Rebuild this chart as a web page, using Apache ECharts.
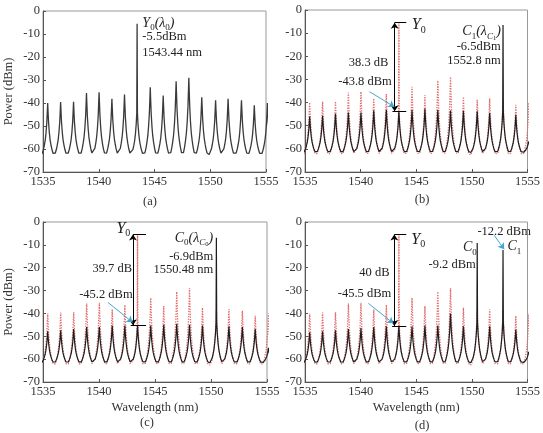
<!DOCTYPE html>
<html>
<head>
<meta charset="utf-8">
<script src="https://cdn.jsdelivr.net/npm/echarts@6/dist/echarts.min.js"></script>
<style>
  html, body { margin: 0; padding: 0; background: #fff; }
  #main { width: 543px; height: 433px; }
</style>
</head>
<body>
<div id="main"></div>
<script>
// peak wavelengths (nm), first and last sit just outside the axis
var wl = [1534.26, 1535.42, 1536.58, 1537.74, 1538.9, 1540.03, 1541.18, 1542.31, 1543.44, 1544.62,
          1545.78, 1546.94, 1548.08, 1549.24, 1550.48, 1551.6, 1552.8, 1553.95, 1555.13];
// peak powers (dBm)
var refPeaks = [-40, -40, -39.6, -39.5, -35.7, -35.3, -38.2, -36.3, -5.5, -33.2,
                -36.8, -30.5, -29, -37.5, -38.8, -38.2, -38.8, -41, -40];
var peaksB = [-56, -46, -45.7, -44.8, -44.3, -44.3, -43.4, -43.1, -43.8, -43.1,
              -42.7, -43.1, -43.4, -43.5, -43.8, -44.5, -6.5, -45.3, -56];
var peaksC = [-56, -47.8, -47.4, -46.8, -45.9, -45.9, -45.3, -45.3, -45.2, -45.3,
              -45, -44.5, -45, -45.3, -6.9, -45.6, -45.9, -46.8, -55];
var peaksD = [-56, -48.3, -47.8, -47.4, -46.8, -46.4, -45.9, -45.6, -45.5, -45.6,
              -45.3, -45.3, -40, -45.6, -9.2, -45.6, -12.2, -47, -56];
var refFloor = -62.6, blackFloor = -61.6;
// peak profile read from one -40 dBm peak: offset (nm) -> share of height above floor
var offsets = [-0.58, -0.48, -0.38, -0.3, -0.22, -0.15, -0.08, -0.03, 0, 0.03, 0.08, 0.15, 0.22, 0.3, 0.38, 0.48];
var shares  = [0, 0.025, 0.1, 0.18, 0.28, 0.42, 0.62, 0.85, 1, 0.85, 0.62, 0.42, 0.28, 0.18, 0.1, 0.025];
var spikeLevel = -25, spikeBase = -41;

var xTicks = [1535, 1540, 1545, 1550, 1555];
var yTicks = [0, -10, -20, -30, -40, -50, -60, -70];

function spectrum(peaks, floor) {
  var pts = [];
  wl.forEach(function (c, i) {
    var p = peaks[i];
    var top = p > spikeLevel ? spikeBase : p;
    offsets.forEach(function (o, j) {
      var v = o === 0 ? p : floor + shares[j] * (top - floor);
      pts.push([+(c + o).toFixed(3), +v.toFixed(2)]);
    });
  });
  return pts;
}

var serif = 'Liberation Serif';
var grids = [
  { left: 43, top: 11, width: 223, height: 161 },
  { left: 305, top: 10, width: 224, height: 162 },
  { left: 43, top: 222, width: 224, height: 160 },
  { left: 305, top: 222, width: 224, height: 160 }
];

var xAxes = grids.map(function (g, i) {
  return {
    type: 'value', gridIndex: i, min: xTicks[0], max: xTicks[xTicks.length - 1], interval: 5,
    axisLine: { onZero: false, lineStyle: { color: '#555' } },
    axisTick: { inside: true, length: 3, lineStyle: { color: '#555' } },
    axisLabel: { color: '#333', fontFamily: serif, fontSize: 12.5, margin: 3,
                 formatter: function (v) { return String(v); } },
    splitLine: { show: false },
    name: i >= 2 ? 'Wavelength (nm)' : '', nameLocation: 'middle', nameGap: 19,
    nameTextStyle: { color: '#333', fontFamily: serif, fontSize: 12.5 }
  };
});
var yAxes = grids.map(function (g, i) {
  return {
    type: 'value', gridIndex: i, min: yTicks[yTicks.length - 1], max: yTicks[0], interval: 10,
    axisLine: { onZero: false, lineStyle: { color: '#555' } },
    axisTick: { inside: true, length: 3, lineStyle: { color: '#555' } },
    axisLabel: { color: '#333', fontFamily: serif, fontSize: 12.5, margin: 3 },
    splitLine: { show: false },
    name: i % 2 === 0 ? 'Power (dBm)' : '', nameLocation: 'middle', nameGap: 28,
    nameTextStyle: { color: '#333', fontFamily: serif, fontSize: 12.5 }
  };
});

var blue = '#45a6d2';
function gapMarks(x, top, bottom, capEnd, blueFrom, blueTo) {
  return {
    silent: true, animation: false, symbolSize: 6,
    label: { show: false },
    lineStyle: { color: '#000', width: 1, type: 'solid' },
    data: [
      [{ coord: [x, top], symbol: 'arrow' }, { coord: [x, bottom], symbol: 'arrow' }],
      [{ coord: [x, top], symbol: 'none' }, { coord: [capEnd, top], symbol: 'none' }],
      [{ coord: [x - 0.2, bottom], symbol: 'none' }, { coord: [capEnd, bottom], symbol: 'none' }],
      [{ coord: blueFrom, symbol: 'none', lineStyle: { color: blue } },
       { coord: blueTo, symbol: 'arrow', lineStyle: { color: blue } }]
    ]
  };
}

function lineSeries(idx, data, kind, extra) {
  var s = {
    type: 'line', xAxisIndex: idx, yAxisIndex: idx, data: data,
    showSymbol: false, silent: true, animation: false, clip: true, z: kind === 'ref' ? 2 : 3,
    lineStyle: kind === 'ref'
      ? { color: '#e36a6a', width: 1.3, type: 'dotted' }
      : { color: '#1e1e1e', width: 1.2 }
  };
  if (extra) s.markLine = extra;
  return s;
}

var refData = spectrum(refPeaks, refFloor);
var series = [
  { type: 'line', xAxisIndex: 0, yAxisIndex: 0, data: spectrum(refPeaks, -62.4), showSymbol: false,
    silent: true, animation: false, lineStyle: { color: '#3a3a3a', width: 1.3 } },
  lineSeries(1, refData, 'ref'),
  lineSeries(1, spectrum(peaksB, blackFloor), 'black',
    gapMarks(1543.06, -5.5, -43.8, 1544.1, [1540.8, -35.3], [1543.03, -41.8])),
  lineSeries(2, refData, 'ref'),
  lineSeries(2, spectrum(peaksC, blackFloor), 'black',
    gapMarks(1543.03, -5.5, -45.2, 1544.2, [1540.8, -35.2], [1543.0, -43.9])),
  lineSeries(3, refData, 'ref'),
  lineSeries(3, spectrum(peaksD, blackFloor), 'black',
    gapMarks(1543.03, -5.5, -45.5, 1544.1, [1540.7, -35.6], [1542.94, -44.3]))
];
// blue arrow to C1 in (d)
series[6].markLine.data.push(
  [{ coord: [1552.0, -5.8], symbol: 'none', lineStyle: { color: blue } },
   { coord: [1552.9, -11.9], symbol: 'arrow', lineStyle: { color: blue } }]);

var chart = echarts.init(document.getElementById('main'));
chart.setOption({
  backgroundColor: '#fff',
  animation: false,
  grid: grids.map(function (g) {
    return Object.assign({ show: true, borderColor: '#999', borderWidth: 1 }, g);
  }),
  xAxis: xAxes,
  yAxis: yAxes,
  series: series
});

// annotations: [panel, wavelength, dBm, text, align]
var rich = {
  m: { fontFamily: serif, fontStyle: 'italic', fontSize: 14, verticalAlign: 'top', lineHeight: 17, color: '#111' },
  b: { fontFamily: serif, fontStyle: 'italic', fontSize: 16, verticalAlign: 'top', lineHeight: 19, color: '#111' },
  s: { fontFamily: serif, fontSize: 9, verticalAlign: 'top', padding: [7, 0, 0, 0], lineHeight: 17, color: '#111' },
  si: { fontFamily: serif, fontStyle: 'italic', fontSize: 9, verticalAlign: 'top', padding: [7, 0, 0, 0], lineHeight: 17, color: '#111' },
  sb: { fontFamily: serif, fontSize: 10, verticalAlign: 'top', padding: [8, 0, 0, 0], lineHeight: 19, color: '#111' },
  ss: { fontFamily: serif, fontSize: 6.5, verticalAlign: 'top', padding: [10, 0, 0, 0], lineHeight: 17, color: '#111' }
};
var Y0 = '{b|Y}{sb|0}';
var notes = [
  [0, 1543.91, -5.8, '{m|Y}{s|0}{m|(λ}{s|0}{m|)}', 'left'],
  [0, 1543.91, -11.3, '-5.5dBm', 'left'],
  [0, 1543.91, -18.3, '1543.44 nm', 'left'],
  [1, 1544.6, -7.2, Y0, 'left'],
  [1, 1542.5, -22.9, '38.3 dB', 'right'],
  [1, 1542.8, -31, '-43.8 dBm', 'right'],
  [1, 1552.6, -10, '{m|C}{s|1}{m|(λ}{si|C}{ss|1}{m|)}', 'right'],
  [1, 1552.6, -16, '-6.5dBm', 'right'],
  [1, 1552.6, -22, '1552.8 nm', 'right'],
  [2, 1542.8, -3.6, Y0, 'right'],
  [2, 1542.95, -20.3, '39.7 dB', 'right'],
  [2, 1543.0, -31.7, '-45.2 dBm', 'right'],
  [2, 1550.2, -7.6, '{m|C}{s|0}{m|(λ}{si|C}{ss|0}{m|)}', 'right'],
  [2, 1550.2, -15, '-6.9dBm', 'right'],
  [2, 1550.2, -20.7, '1550.48 nm', 'right'],
  [3, 1544.55, -8.4, Y0, 'left'],
  [3, 1542.6, -22.4, '40 dB', 'right'],
  [3, 1542.75, -31.2, '-45.5 dBm', 'right'],
  [3, 1549.2, -11.9, '{m|C}{s|0}', 'left'],
  [3, 1550.35, -18.9, '-9.2 dBm', 'right'],
  [3, 1552.9, -4.1, '-12.2 dBm', 'center'],
  [3, 1553.2, -11.5, '{m|C}{s|1}', 'left']
];
var panelTags = [['(a)', 150, 202], ['(b)', 422, 200], ['(c)', 147, 423], ['(d)', 422, 426]];

var graphic = notes.map(function (n) {
  var p = chart.convertToPixel({ gridIndex: n[0] }, [n[1], n[2]]);
  var isRich = n[3].indexOf('{') === 0;
  return {
    type: 'text', x: p[0], y: p[1], silent: true, z: 10,
    style: {
      text: n[3], align: n[4], verticalAlign: 'middle',
      fontFamily: serif, fontSize: 12.5, fill: '#222',
      rich: isRich ? rich : undefined
    }
  };
}).concat(panelTags.map(function (t) {
  return {
    type: 'text', x: t[1], y: t[2], silent: true,
    style: { text: t[0], align: 'center', verticalAlign: 'middle', fontFamily: serif, fontSize: 12.5, fill: '#333' }
  };
}));
chart.setOption({ graphic: graphic });
</script>
</body>
</html>
